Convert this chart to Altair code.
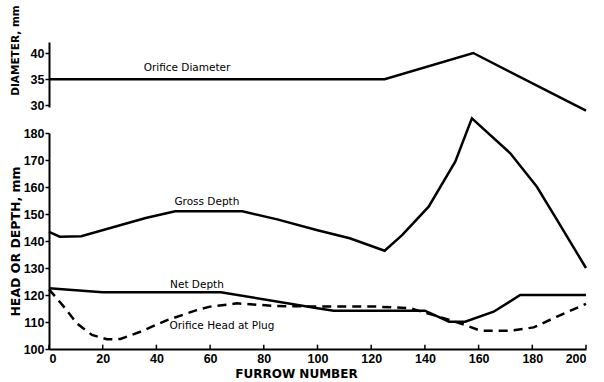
import altair as alt
import pandas as pd

# ---- data ----
diam_x = [0, 125, 158, 200]
diam_y = [35, 35, 40, 29]

gross_x = [0, 4, 12, 36, 47, 72, 85, 100, 112, 125, 131.5, 141.4, 151.3, 157.5, 171.8, 181.7, 189.2, 200]
gross_y = [143.4, 141.6, 141.8, 148.5, 151, 151, 148, 144, 141, 136.4, 142.2, 152.7, 169.4, 185.4, 172.5, 160.1, 147.8, 130]

net_x = [0, 20, 64, 100, 106, 140, 149, 155, 165.6, 175.5, 200]
net_y = [122.5, 121, 121, 115.1, 114.2, 114.2, 110.1, 110.1, 113.8, 120, 120]

head_x = [0, 5.5, 10.4, 16, 21.6, 26.6, 34, 44, 55, 60, 70, 85, 102, 122, 134.6, 147, 155, 160.6, 171.8, 180.5, 189.2, 200]
head_y = [122.1, 115.7, 109.5, 105.2, 103.6, 103.7, 106.4, 110.7, 114.4, 115.7, 116.9, 115.9, 115.7, 115.7, 115.1, 111.4, 108.9, 106.8, 106.8, 108, 112, 116.7]

x_ticks = [0, 20, 40, 60, 80, 100, 120, 140, 160, 180, 200]
diam_ticks = [30, 35, 40]
depth_ticks = [100, 110, 120, 130, 140, 150, 160, 170, 180]

top_labels = ["Orifice Diameter"]
top_lab_x = [51.4]
top_lab_y = [37.05]

bot_labels = ["Gross Depth", "Net Depth", "Orifice Head at Plug"]
bot_lab_x = [58.8, 55.1, 64.4]
bot_lab_y = [154.6, 123.7, 108.5]

W = 537
FONT = "Liberation Sans"
TFONT = "DejaVu Sans"

diam_df = pd.DataFrame({"x": diam_x, "y": diam_y})
gross_df = pd.DataFrame({"x": gross_x, "y": gross_y})
net_df = pd.DataFrame({"x": net_x, "y": net_y})
head_df = pd.DataFrame({"x": head_x, "y": head_y})
xt_df = pd.DataFrame({"x": x_ticks})
top_lab_df = pd.DataFrame({"t": top_labels, "x": top_lab_x, "y": top_lab_y})
bot_lab_df = pd.DataFrame({"t": bot_labels, "x": bot_lab_x, "y": bot_lab_y})

xs = alt.Scale(domain=[0, 200], nice=False, zero=False)
ys_top = alt.Scale(domain=[29.7, 42.1], nice=False, zero=False)
ys_bot = alt.Scale(domain=[100, 180], nice=False, zero=False)

top_y_axis = alt.Axis(values=diam_ticks, title="DIAMETER, mm", titleFontSize=10.5,
                      titlePadding=10, titleY=8, grid=False, tickSize=4,
                      labelPadding=1, labelOverlap=False)
bot_y_axis = alt.Axis(values=depth_ticks, title="HEAD OR DEPTH, mm", titleFontSize=12.5,
                      titlePadding=1, grid=False, tickSize=4, labelPadding=1,
                      labelOverlap=False)
bot_x_axis = alt.Axis(values=x_ticks, title="FURROW NUMBER", grid=False,
                      ticks=False, labelPadding=3, titlePadding=4, titleFontSize=12,
                      labelOverlap=False, titleX=247)

top_x = alt.X("x:Q", scale=xs, axis=None)
top_y = alt.Y("y:Q", scale=ys_top, axis=top_y_axis)
bot_x = alt.X("x:Q", scale=xs, axis=bot_x_axis)
bot_y = alt.Y("y:Q", scale=ys_bot, axis=bot_y_axis)

diam_line = alt.Chart(diam_df).mark_line(color="black", strokeWidth=2.5).encode(x=top_x, y=top_y)
top_text = alt.Chart(top_lab_df).mark_text(font=TFONT, fontSize=10.5, color="black").encode(
    x=top_x, y=top_y, text="t:N")
top = alt.layer(diam_line, top_text).properties(width=W, height=65)

gross = alt.Chart(gross_df).mark_line(color="black", strokeWidth=2.5).encode(x=bot_x, y=bot_y)
net = alt.Chart(net_df).mark_line(color="black", strokeWidth=2.5).encode(x=bot_x, y=bot_y)
head = alt.Chart(head_df).mark_line(color="black", strokeWidth=2.5, strokeDash=[9, 6]).encode(
    x=bot_x, y=bot_y)
xticks = alt.Chart(xt_df).mark_rule(color="black", strokeWidth=1.5).encode(
    x=bot_x,
    y=alt.YDatum(100, type="quantitative", scale=ys_bot, axis=bot_y_axis),
    y2=alt.datum(101.6),
)
bot_text = alt.Chart(bot_lab_df).mark_text(font=TFONT, fontSize=10.5, color="black").encode(
    x=bot_x, y=bot_y, text="t:N")
bottom = alt.layer(gross, net, head, xticks, bot_text).properties(width=W, height=216)

chart = alt.vconcat(top, bottom, spacing=26, bounds="flush").properties(
    padding={"left": 9, "top": 4, "right": 10, "bottom": 0},
    background="white",
).configure_view(stroke=None).configure_axis(
    domainColor="black", domainWidth=2, tickColor="black", tickWidth=1.5,
    labelColor="black", titleColor="black", labelFont=FONT, titleFont=TFONT,
    labelFontWeight="bold", titleFontWeight="bold", labelFontSize=12.5,
)

chart.save("out.html", embed_options={"renderer": "svg", "actions": False})
